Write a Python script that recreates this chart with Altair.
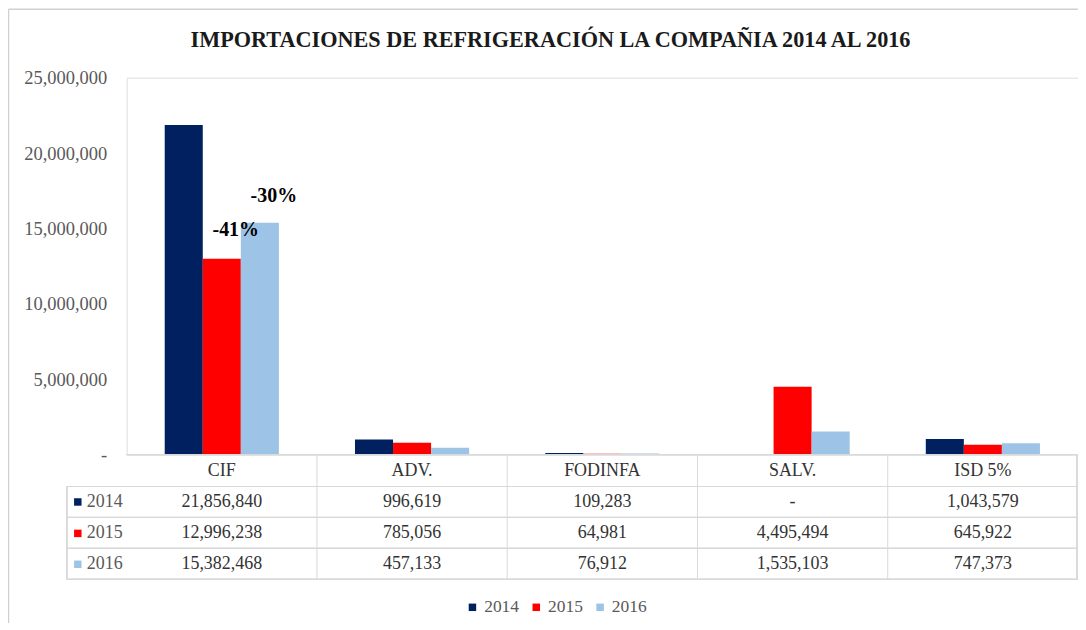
import altair as alt
import pandas as pd

# ---- data ----
categories = ["CIF", "ADV.", "FODINFA", "SALV.", "ISD 5%"]
years = ["2014", "2015", "2016"]
v2014 = [21856840, 996619, 109283, None, 1043579]
v2015 = [12996238, 785056, 64981, 4495494, 645922]
v2016 = [15382468, 457133, 76912, 1535103, 747373]
y_ticks = [0, 5000000, 10000000, 15000000, 20000000, 25000000]
ann_text = ["-41%", "-30%"]
ann_year = ["2015", "2016"]
ann_value = [14880000, 17130000]
colors = ["#002060", "#FF0000", "#9DC3E6"]
title_text = "IMPORTACIONES DE REFRIGERACIÓN LA COMPAÑIA 2014 AL 2016"

rows = []
for yr, vals in zip(years, [v2014, v2015, v2016]):
    for c, v in zip(categories, vals):
        rows.append({"cat": c, "year": yr, "value": v,
                     "label": "-" if v is None else f"{v:,}"})
df = pd.DataFrame(rows)
df_cat = pd.DataFrame({"cat": categories})
df_sep = pd.DataFrame({"cat": categories[1:]})
df_ann = pd.DataFrame({"cat": ["CIF", "CIF"], "year": ann_year,
                       "value": ann_value, "text": ann_text})
df_years = pd.DataFrame({"year": years})
df_title = pd.DataFrame({"t": [title_text]})

W, H = 954, 378
FONT = "Liberation Serif"
GRID = "#d9d9d9"

xscale = alt.Scale(domain=categories, paddingInner=0, paddingOuter=0)
X = alt.X("cat:N", sort=categories, scale=xscale, axis=None)
color = alt.Color("year:N", scale=alt.Scale(domain=years, range=colors),
                  legend=alt.Legend(title=None, orient="none", direction="horizontal",
                                    legendX=338, legendY=522, padding=0,
                                    symbolType="square", symbolSize=56,
                                    symbolStrokeWidth=0, labelFont=FONT,
                                    labelFontSize=17.5, labelColor="#595959",
                                    labelOffset=3, columnPadding=8))

bars = alt.Chart(df).transform_filter("datum.value != null").mark_bar().encode(
    x=X,
    xOffset=alt.XOffset("year:N", sort=years,
                        scale=alt.Scale(domain=years, paddingInner=0,
                                        paddingOuter={"expr": "1.078"})),
    y=alt.Y("value:Q", scale=alt.Scale(domain=[0, 25000000], nice=False),
            axis=alt.Axis(values=y_ticks, title=None, domain=False, ticks=False, grid=False,
                          labelExpr="datum.value == 0 ? '-\u00a0\u00a0' : format(datum.value, ',')",
                          labelFont=FONT, labelFontSize=18.5, labelColor="#595959",
                          labelPadding=20)),
    color=color,
)

ann = alt.Chart(df_ann).mark_text(font=FONT, fontSize=20, fontWeight="bold",
                                   color="#000000", dx=14, baseline="middle").encode(
    x=X,
    xOffset=alt.XOffset("year:N", sort=years),
    y=alt.Y("value:Q"),
    text="text:N",
)

layers = [bars, ann]

# chart title
layers.append(alt.Chart(df_title).mark_text(font=FONT, fontSize=22.3, fontWeight="bold",
                                            color="#1a1a1a", baseline="middle").encode(
    x=alt.value(425), y=alt.value(-38), text="t:N"))

# outer frame: only its left and top edges are visible in the reference
layers.append(alt.Chart(df_title).mark_rule(color="#d0d0d0", strokeWidth=1.5).encode(
    x=alt.value(-118.5), y=alt.value(-68.5), y2=alt.value(H + 300)))
layers.append(alt.Chart(df_title).mark_rule(color="#d0d0d0", strokeWidth=1.5).encode(
    x=alt.value(-118.5), x2=alt.value(W + 300), y=alt.value(-68.5)))

# table lines
layers.append(alt.Chart(df_cat).mark_rule(color=GRID).encode(
    x=alt.value(0), x2=alt.value(W), y=alt.value(H)))
for yy in [410, 441, 472, 503]:
    layers.append(alt.Chart(df_cat).mark_rule(color=GRID).encode(
        x=alt.value(-60), x2=alt.value(W), y=alt.value(yy)))
layers.append(alt.Chart(df_sep).mark_rule(color=GRID).encode(
    x=alt.X("cat:N", sort=categories, scale=xscale, axis=None, bandPosition=0),
    y=alt.value(H), y2=alt.value(503)))
layers.append(alt.Chart(df_cat).mark_rule(color=GRID).encode(
    x=alt.value(W - 1), y=alt.value(H), y2=alt.value(503)))
layers.append(alt.Chart(df_cat).mark_rule(color=GRID).encode(
    x=alt.value(-60), y=alt.value(410), y2=alt.value(503)))

# header row: category names
layers.append(alt.Chart(df_cat).mark_text(font=FONT, fontSize=18, color="#333333",
                                          baseline="middle").encode(
    x=X, y=alt.value(394), text="cat:N"))

# rows
row_y = {"2014": 425.5, "2015": 457, "2016": 488}
for yr in years:
    layers.append(alt.Chart(df).transform_filter(f"datum.year == '{yr}'").mark_text(
        font=FONT, fontSize=18, color="#333333", baseline="middle").encode(
        x=X, y=alt.value(row_y[yr]), text="label:N"))
    layers.append(alt.Chart(df_years).transform_filter(f"datum.year == '{yr}'").mark_square(
        size=56, opacity=1).encode(
        x=alt.value(-49), y=alt.value(row_y[yr]), color=color))
    layers.append(alt.Chart(df_years).transform_filter(f"datum.year == '{yr}'").mark_text(
        font=FONT, fontSize=18, color="#595959", align="left", baseline="middle").encode(
        x=alt.value(-40), y=alt.value(row_y[yr]), text="year:N"))

chart = alt.layer(*layers).properties(
    width=W, height=H,
    autosize=alt.AutoSizeParams(type="none"),
    padding={"left": 119, "top": 69, "right": 0, "bottom": 168},
).configure_view(stroke=None).configure(background="white")

chart.save("out.html", embed_options={"renderer": "svg", "actions": False})
